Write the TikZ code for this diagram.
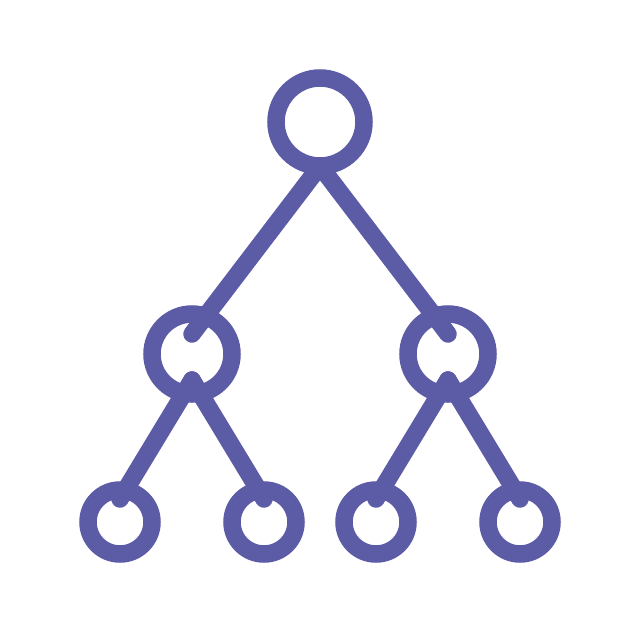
\documentclass[tikz,border=0pt]{standalone}
\definecolor{treeblue}{RGB}{91,91,166}
\begin{document}
\begin{tikzpicture}[x=0.1mm,y=-0.1mm,line width=1.75mm,treeblue,line cap=round]
\useasboundingbox (0,0) rectangle (640,640);
\node[circle, draw, inner sep=0, minimum size=8.8mm] (tid0) at (320,122){};
\coordinate (tid0b) at (320,166);
\node[circle, draw, inner sep=0, minimum size=8mm] (tid1) at (192,354){};
\coordinate (tid1t) at (192,334);
\coordinate (tid1b) at (192,380);
\node[circle, draw, inner sep=0, minimum size=6.4mm] (tid3) at (120,522){};
\coordinate (tid3t) at (120,499);
\draw[](tid1b) -- (tid3t);
\node[circle, draw, inner sep=0, minimum size=6.4mm] (tid4) at (264,522){};
\coordinate (tid4t) at (264,499);
\draw[](tid1b) -- (tid4t);
\node[circle, draw, inner sep=0, minimum size=8mm] (tid2) at (448,354){};
\coordinate (tid2t) at (448,334);
\coordinate (tid2b) at (448,380);
\node[circle, draw, inner sep=0, minimum size=6.4mm] (tid5) at (376,522){};
\coordinate (tid5t) at (376,499);
\draw[](tid2b) -- (tid5t);
\node[circle, draw, inner sep=0, minimum size=6.4mm] (tid6) at (520,522){};
\coordinate (tid6t) at (520,499);
\draw[](tid2b) -- (tid6t);
\draw[](tid0b) -- (tid1t);
\draw[](tid0b) -- (tid2t);

\end{tikzpicture}
\end{document}
